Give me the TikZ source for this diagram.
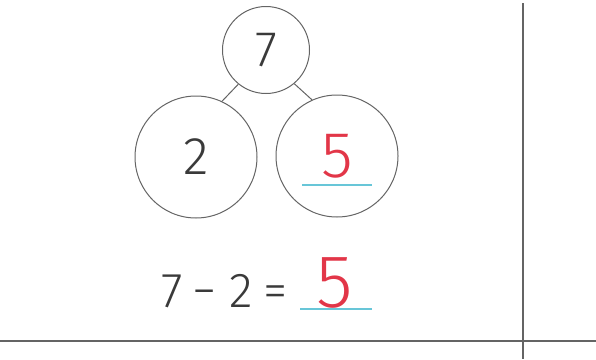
\documentclass[tikz,border=0pt]{standalone}
\usepackage{fontspec}
\setmainfont{Fira Sans Light}
\definecolor{inkgray}{RGB}{58,58,58}
\definecolor{linegray}{RGB}{100,100,100}
\definecolor{ansred}{RGB}{226,54,72}
\definecolor{blankcyan}{RGB}{104,198,216}

\begin{document}
\begin{tikzpicture}[x=1pt,y=-1pt,
    bond/.style={circle,draw=linegray,line width=1pt,inner sep=0pt,text=inkgray},
    blank/.style={blankcyan,line width=1.3pt}]
        \useasboundingbox (0,0) rectangle (596,359);
        % number bond
        \node[bond,minimum size=87pt,font=\fontsize{50}{50}\selectfont] (whole) at (266,50) {7};
        \node[bond,minimum size=122pt,font=\fontsize{53}{53}\selectfont] (lpart) at (196,157) {2};
        \node[bond,minimum size=122pt,font=\fontsize{65}{65}\selectfont,text=ansred] (rpart) at (337,156) {5};
        \draw[linegray,line width=1pt] (whole.231) -- (lpart.65);
        \draw[linegray,line width=1pt] (whole.310) -- (rpart.114);
        \draw[blank] ([xshift=-35pt,yshift=-29pt]rpart.center) -- ++(70,0);
        % equation
        \node[anchor=base west,inner sep=0pt,text=inkgray,font=\fontsize{49}{49}\selectfont] (eq) at (161,307)
          {7\hspace{10pt}−\hspace{13pt}2\hspace{10pt}=};
        \node[anchor=base,inner sep=0pt,text=ansred,font=\fontsize{75}{75}\selectfont] (ans) at (335,307) {5};
        \draw[blank] ([xshift=-35pt,yshift=-2pt]ans.base) -- ++(72,0);
        % ruled lines
        \coordinate (vtop) at (523,3);
        \coordinate (vbot) at (523,359);
        \coordinate (hleft) at (0,341);
        \coordinate (hright) at (596,341);
        \draw[linegray,line width=1.2pt] (vtop) -- (vbot);
        \draw[linegray,line width=1.2pt] (hleft) -- (hright);
      \end{tikzpicture}
\end{document}
